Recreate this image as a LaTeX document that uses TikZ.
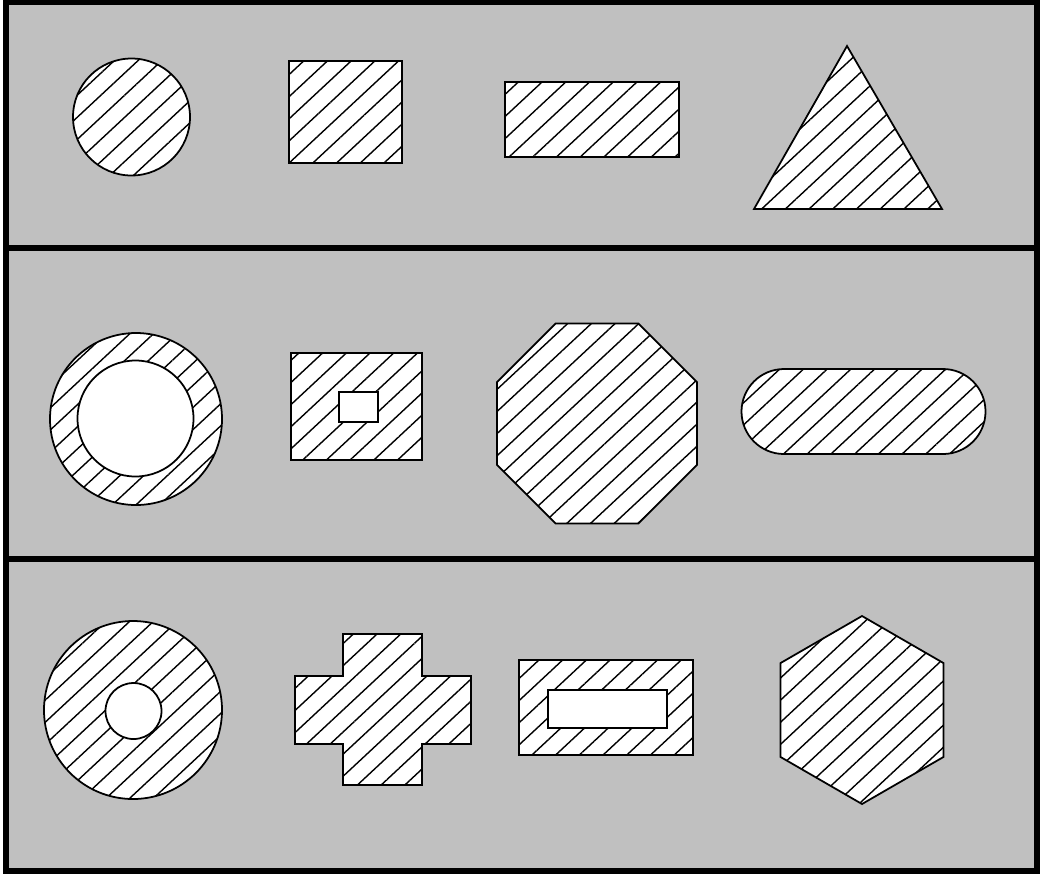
\documentclass[tikz,border=0pt]{standalone}
\usepackage{tikz}
\usetikzlibrary{patterns.meta}
\definecolor{panelgray}{RGB}{192,192,192}

\begin{document}
\begin{tikzpicture}[x=0.01cm, y=-0.01cm,
    panel/.style={draw=black, line width=1.9pt, fill=panelgray},
    hatch/.style={draw=black, line width=0.5pt, preaction={fill=white},
        pattern={Lines[angle=43, distance=4.6pt, line width=0.4pt]}},
    hole/.style={draw=black, line width=0.5pt, fill=white}
]
    \useasboundingbox (0,0) rectangle (1043,875);

    % Panels
    \draw[panel] (6,2) rectangle (1037,248);
    \draw[panel] (6,248) rectangle (1037,559);
    \draw[panel] (6,559) rectangle (1037,871);

    % Top row
    \draw[hatch] (131.5,117) circle[radius=58.5];
    \draw[hatch] (289,61) rectangle (402,163);
    \draw[hatch] (505,82) rectangle (679,157);
    \draw[hatch] (847,46) -- (942,209) -- (754,209) -- cycle;

    % Middle row
    \draw[hatch] (136,419) circle[radius=86];
    \draw[hole] (135.5,418.5) circle[radius=58];
    \draw[hatch] (291,353) rectangle (422,460);
    \draw[hole] (339,392) rectangle (378,422);
    \draw[hatch] (638.4,323.5) -- (697,382.1) -- (697,464.9) -- (638.4,523.5)
        -- (555.6,523.5) -- (497,464.9) -- (497,382.1) -- (555.6,323.5) -- cycle;
    \draw[hatch] (784,369) -- (943,369) arc[start angle=-90, end angle=90, radius=42.5]
        -- (784,454) arc[start angle=90, end angle=270, radius=42.5] -- cycle;

    % Bottom row
    \draw[hatch] (133,710) circle[radius=89];
    \draw[hole] (133.5,711) circle[radius=28];
    \draw[hatch] (343,634) -- (422,634) -- (422,676) -- (471,676) -- (471,744)
        -- (422,744) -- (422,785) -- (343,785) -- (343,744) -- (295,744)
        -- (295,676) -- (343,676) -- cycle;
    \draw[hatch] (519,660) rectangle (693,755);
    \draw[hole] (548,690) rectangle (667,728);
    \draw[hatch] (862,616) -- (943.4,663) -- (943.4,757) -- (862,804)
        -- (780.6,757) -- (780.6,663) -- cycle;
\end{tikzpicture}
\end{document}
